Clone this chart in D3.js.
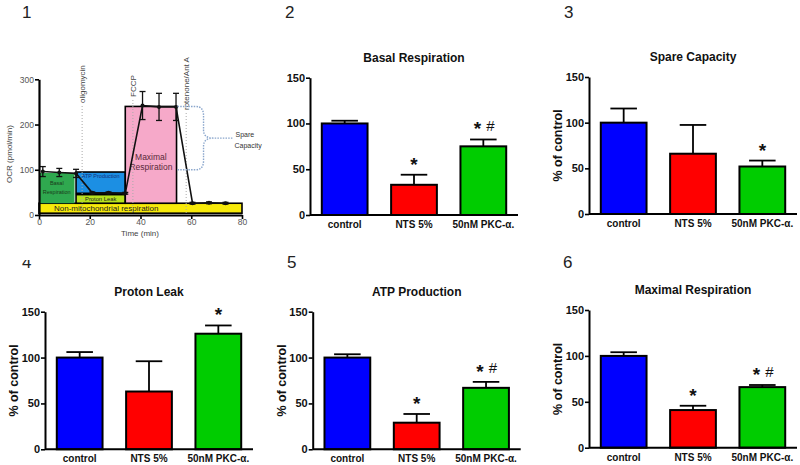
<!DOCTYPE html>
<html><head><meta charset="utf-8">
<script src="https://cdn.jsdelivr.net/npm/d3@7"></script>
<style>
body{margin:0;background:#fff}
svg{display:block}
text{font-family:"Liberation Sans",Arial,sans-serif}
</style>
</head><body>
<svg id="c" width="800" height="465"></svg>
<script>
// ================= DATA =================
// Panel 1: Seahorse time course
const timeMin  = [1.5, 8, 14.6, 21, 27.4, 34, 40.8, 47.3, 54, 60.5, 67, 73.5];
const ocrMean  = [96, 94, 92, 49, 49, 48, 242, 239, 239, 26, 27, 26];
const ocrErr   = [11, 9, 9, 2, 2, 2, 31, 30, 30, 2, 2, 2];
const ocrTicks = [0, 100, 200, 300];
const timeTicks = [0, 20, 40, 60, 80];
const injectNames = ["oligomycin", "FCCP", "rotenone/Ant A"];
const injectTime  = [17, 37, 58];
const regionNames = ["Non-mitochondrial respiration", "Basal Respiration", "ATP Production", "Proton Leak", "Maximal Respiration"];
const regionT0 = [0, 0, 14.6, 14.6, 34];
const regionT1 = [80, 14, 34, 34, 54.2];
const regionLo = [4, 26, 48, 26, 26];
const regionHi = [26, 93, 95, 45, 240];

// Panels 2-6: % of control
const categories = ["control", "NTS 5%", "50nM PKC-\u03b1."];
const pctTicks = [0, 50, 100, 150];
const basalMean = [100, 33, 75];
const basalErr  = [3, 11, 7.5];
const basalSig  = ["", "*", "* #"];
const spareMean = [100, 66, 52];
const spareErr  = [15.5, 31.5, 6.5];
const spareSig  = ["", "", "*"];
const leakMean  = [100, 63, 126];
const leakErr   = [6, 33, 9];
const leakSig   = ["", "", "*"];
const atpMean   = [100, 29, 67];
const atpErr    = [3.6, 9.5, 6.5];
const atpSig    = ["", "*", "* #"];
const maxMean   = [100, 41, 66];
const maxErr    = [4, 4.7, 2.3];
const maxSig    = ["", "*", "* #"];

// ================= DRAW =================
const svg = d3.select("#c");
const barColors = ["#0000ff", "#ff0000", "#00cc00"];

// ---------- Panel 1 ----------
(function(){
  const xs = d3.scaleLinear().domain([0, 80]).range([39, 242]);
  const ys = d3.scaleLinear().domain([0, 300]).range([215, 79.3]);
  const g = svg.append("g");
  const fills   = ["#f7ea0a", "#2fa84f", "#1c8fe3", "#b7e21f", "#f6a9c9"];
  const strokes = ["#000", "none", "#000", "#000", "#000"];
  regionNames.forEach((n, i) => {
    g.append("rect")
      .attr("x", xs(regionT0[i])).attr("width", xs(regionT1[i]) - xs(regionT0[i]))
      .attr("y", ys(regionHi[i])).attr("height", ys(regionLo[i]) - ys(regionHi[i]))
      .attr("fill", fills[i]).attr("stroke", strokes[i]).attr("stroke-width", 1.6);
  });
  // region labels
  const lab = (txt, x, y, size, col) => g.append("text").attr("x", x).attr("y", y)
      .attr("text-anchor", "middle").attr("font-size", size).attr("fill", col).text(txt);
  lab("Non-mitochondrial respiration", xs(26.5), (ys(regionLo[0]) + ys(regionHi[0])) / 2 + 3, 8, "#222");
  const bcY = (ys(regionLo[1]) + ys(regionHi[1])) / 2;
  lab("Basal", xs((regionT0[1] + regionT1[1]) / 2), bcY - 3, 5.5, "#1a3a1a");
  lab("Respiration", xs((regionT0[1] + regionT1[1]) / 2), bcY + 6, 5.5, "#1a3a1a");
  lab("ATP Production", xs((regionT0[2] + regionT1[2]) / 2), ys(regionHi[2]) + 5.5, 5.5, "#15307a");
  lab("Proton Leak", xs((regionT0[3] + regionT1[3]) / 2), (ys(regionLo[3]) + ys(regionHi[3])) / 2 + 2.5, 5.8, "#222");
  const mx = xs((regionT0[4] + regionT1[4]) / 2);
  lab("Maximal", mx, ys(120) - 1, 8.5, "#5a2a3a");
  lab("Respiration", mx, ys(120) + 9, 8.5, "#5a2a3a");

  // injection dotted lines and labels
  const labelBottom = [103, 97, 110];
  injectNames.forEach((n, i) => {
    g.append("line").attr("x1", xs(injectTime[i])).attr("x2", xs(injectTime[i]))
      .attr("y1", labelBottom[i] + 3).attr("y2", ys(4))
      .attr("stroke", "#aaa").attr("stroke-width", 1).attr("stroke-dasharray", "1,2");
    g.append("text").attr("transform", `translate(${xs(injectTime[i]) + 3},${labelBottom[i]}) rotate(-90)`)
      .attr("font-size", 8).attr("fill", "#444").text(n);
  });

  // data line + error bars + points
  const pts = timeMin.map((t, i) => [t, ocrMean[i], ocrErr[i]]);
  g.append("path").datum(pts)
    .attr("d", d3.line().x(d => xs(d[0])).y(d => ys(d[1])))
    .attr("fill", "none").attr("stroke", "#111").attr("stroke-width", 1.6);
  pts.forEach(d => {
    const x = xs(d[0]);
    g.append("line").attr("x1", x).attr("x2", x).attr("y1", ys(d[1] - d[2])).attr("y2", ys(d[1] + d[2]))
      .attr("stroke", "#111").attr("stroke-width", 1.3);
    [d[1] - d[2], d[1] + d[2]].forEach(v => g.append("line").attr("x1", x - 3).attr("x2", x + 3)
      .attr("y1", ys(v)).attr("y2", ys(v)).attr("stroke", "#111").attr("stroke-width", 1.3));
    g.append("circle").attr("cx", x).attr("cy", ys(d[1])).attr("r", 2).attr("fill", "#111");
  });

  // spare capacity brace
  const xa = xs(regionT1[4]) + 1, yt = ys(240), yb = ys(100), ym = (yt + yb) / 2;
  const xb = xa + 26, xt = xa + 56;
  const p = `M${xa},${yt} L${xb - 8},${yt} Q${xb},${yt} ${xb},${yt + 9} L${xb},${ym - 8} Q${xb},${ym} ${xb + 10},${ym} L${xt},${ym}`
          + ` M${xb + 10},${ym} Q${xb},${ym} ${xb},${ym + 8} L${xb},${yb - 9} Q${xb},${yb} ${xb - 8},${yb} L${xa},${yb}`;
  g.append("path").attr("d", p).attr("fill", "none").attr("stroke", "#8aa6cc")
    .attr("stroke-width", 1.4).attr("stroke-dasharray", "1.5,1.2");
  g.append("text").attr("x", xt + 2).attr("y", ym - 1).attr("font-size", 7).attr("fill", "#333").text("Spare");
  g.append("text").attr("x", xt + 1).attr("y", ym + 10).attr("font-size", 7).attr("fill", "#333").text("Capacity");

  // axes
  const ax = g.append("g").attr("transform", "translate(0,215)")
    .call(d3.axisBottom(xs).tickValues(timeTicks).tickSize(4).tickSizeOuter(0));
  const ay = g.append("g").attr("transform", "translate(39,0)")
    .call(d3.axisLeft(ys).tickValues(ocrTicks).tickSize(4).tickSizeOuter(0));
  [ax, ay].forEach(a => {
    a.select(".domain").attr("stroke", "#000").attr("stroke-width", 2.2);
    a.selectAll(".tick line").attr("stroke", "#000").attr("stroke-width", 1.6);
    a.selectAll(".tick text").attr("font-size", 8.5).attr("fill", "#555")
      .attr("font-family", '"Liberation Sans",Arial,sans-serif');
  });
  ay.selectAll(".tick text").attr("x", -5);
  ax.selectAll(".tick text").attr("y", 4);
  g.append("text").attr("transform", "translate(12,154) rotate(-90)").attr("text-anchor", "middle")
    .attr("font-size", 8).attr("fill", "#444").text("OCR (pmol/min)");
  g.append("text").attr("x", 140).attr("y", 236).attr("text-anchor", "middle")
    .attr("font-size", 8).attr("fill", "#444").text("Time (min)");
})();

// ---------- Bar panels ----------
function sigMark(g, cx, cy, s) {
  const parts = s.split(" ");
  if (parts.length === 1) {
    g.append("text").attr("x", cx).attr("y", cy + 10).attr("text-anchor", "middle")
      .attr("font-size", 19).attr("font-weight", "bold").attr("fill", "#111").text("*");
  } else {
    g.append("text").attr("x", cx - 6).attr("y", cy + 10).attr("text-anchor", "middle")
      .attr("font-size", 19).attr("font-weight", "bold").attr("fill", "#111").text("*");
    g.append("text").attr("x", cx + 7).attr("y", cy + 5.5).attr("text-anchor", "middle")
      .attr("font-size", 15).attr("fill", "#111").text("#");
  }
}
function barPanel(cfg, title, means, errs, sigs, showYLabel) {
  const g = svg.append("g");
  const xs = d3.scaleBand().domain(categories).range([cfg.x0, cfg.x0 + 208]).paddingInner(0.34).paddingOuter(0.17);
  const ys = d3.scaleLinear().domain([0, 150]).range([cfg.yb, cfg.yt]);
  const bw = xs.bandwidth();
  categories.forEach((c, i) => {
    const cx = xs(c) + bw / 2;
    const top = ys(means[i] + errs[i]);
    g.append("line").attr("x1", cx).attr("x2", cx).attr("y1", ys(means[i])).attr("y2", top)
      .attr("stroke", "#000").attr("stroke-width", 1.8);
    g.append("line").attr("x1", cx - bw * 0.29).attr("x2", cx + bw * 0.29).attr("y1", top).attr("y2", top)
      .attr("stroke", "#000").attr("stroke-width", 1.8);
    g.append("rect").attr("x", xs(c)).attr("width", bw)
      .attr("y", ys(means[i])).attr("height", ys(0) - ys(means[i]))
      .attr("fill", barColors[i]).attr("stroke", "#000").attr("stroke-width", 2);
    if (sigs[i]) sigMark(g, cx, top - 14, sigs[i]);
    g.append("text").attr("x", cx).attr("y", cfg.yb + 13).attr("text-anchor", "middle")
      .attr("font-size", 10).attr("font-weight", "bold").attr("fill", "#111").text(c);
  });
  // axes
  g.append("line").attr("x1", cfg.x0).attr("x2", cfg.x0 + 208).attr("y1", cfg.yb).attr("y2", cfg.yb)
    .attr("stroke", "#000").attr("stroke-width", 2);
  const ay = g.append("g").attr("transform", `translate(${cfg.x0},0)`)
    .call(d3.axisLeft(ys).tickValues(pctTicks).tickSize(4).tickSizeOuter(0));
  ay.select(".domain").attr("stroke", "#000").attr("stroke-width", 2);
  ay.selectAll(".tick line").attr("stroke", "#000").attr("stroke-width", 1.6);
  ay.selectAll(".tick text").attr("x", -5).attr("font-size", 11).attr("font-weight", "bold")
    .attr("fill", "#111").attr("font-family", '"Liberation Sans",Arial,sans-serif');
  g.append("text").attr("x", cfg.x0 + 104).attr("y", cfg.yt - 16).attr("text-anchor", "middle")
    .attr("font-size", 12).attr("font-weight", "bold").attr("fill", "#111").text(title);
  if (showYLabel) {
    g.append("text").attr("transform", `translate(${cfg.x0 - 31},${(cfg.yt + cfg.yb) / 2}) rotate(-90)`)
      .attr("dy", "0.35em").attr("text-anchor", "middle")
      .attr("font-size", 12.5).attr("font-weight", "bold").attr("fill", "#111").text("% of control");
  }
}

barPanel({x0: 310, yb: 215, yt: 77.7}, "Basal Respiration", basalMean, basalErr, basalSig, false);
barPanel({x0: 589, yb: 214, yt: 77}, "Spare Capacity", spareMean, spareErr, spareSig, true);
barPanel({x0: 45, yb: 449.3, yt: 311.7}, "Proton Leak", leakMean, leakErr, leakSig, true);
barPanel({x0: 312.7, yb: 449.3, yt: 311.7}, "ATP Production", atpMean, atpErr, atpSig, true);
barPanel({x0: 589, yb: 447.7, yt: 310}, "Maximal Respiration", maxMean, maxErr, maxSig, true);

// ---------- Panel numbers ----------
const panelNums = ["1", "2", "3", "4", "5", "6"];
const numPos = [[22, 18], [285, 18], [564, 18], [22, 268], [287, 268], [563, 268]];
svg.append("defs").append("clipPath").attr("id", "clip4")
  .append("rect").attr("x", 0).attr("y", 260).attr("width", 60).attr("height", 20);
panelNums.forEach((n, i) => {
  svg.append("text").attr("x", numPos[i][0]).attr("y", numPos[i][1])
    .attr("font-size", 17).attr("fill", "#222")
    .attr("clip-path", n === "4" ? "url(#clip4)" : null).text(n);
});
</script>
</body></html>
